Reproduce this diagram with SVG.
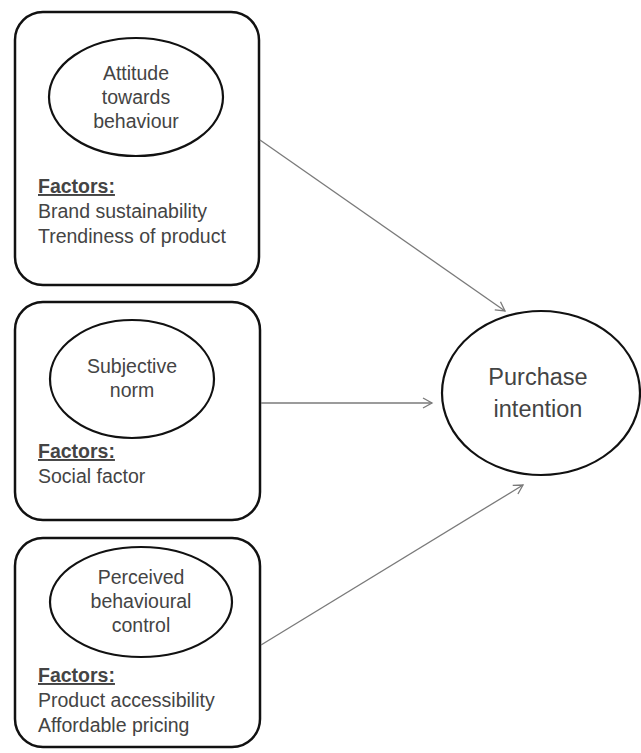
<svg xmlns="http://www.w3.org/2000/svg" width="641" height="753" viewBox="0 0 641 753">
<defs>
<marker id="arr" markerUnits="userSpaceOnUse" markerWidth="14" markerHeight="14" refX="12" refY="7" orient="auto">
<path d="M3,2 L12,7 L3,12" fill="none" stroke="#7a7a7a" stroke-width="1.3"/>
</marker>
</defs>
<style>
.box{fill:#fff;stroke:#111;stroke-width:2.5}
.ell{fill:#fff;stroke:#111;stroke-width:2.2}
.t{font-family:"Liberation Sans",Arial,sans-serif;font-size:19.5px;fill:#444}
.c{text-anchor:middle}
.f{font-weight:bold;text-decoration:underline}
.big{font-size:23.5px}
.con{stroke:#7a7a7a;stroke-width:1.3;fill:none;marker-end:url(#arr)}
</style>
<rect width="641" height="753" fill="#fff"/>
<g id="attitude">
<rect class="box" x="15" y="12" width="244" height="273" rx="28"/>
<ellipse class="ell" cx="136" cy="97" rx="87" ry="59"/>
<text class="t c" x="136" y="80">Attitude</text>
<text class="t c" x="136" y="104">towards</text>
<text class="t c" x="136" y="128">behaviour</text>
<text class="t f" x="38" y="193">Factors:</text>
<text class="t" x="38" y="218">Brand sustainability</text>
<text class="t" x="38" y="243">Trendiness of product</text>
</g>
<g id="subjective">
<rect class="box" x="15" y="302" width="245" height="218" rx="28"/>
<ellipse class="ell" cx="132" cy="379" rx="82" ry="59"/>
<text class="t c" x="132" y="373">Subjective</text>
<text class="t c" x="132" y="397">norm</text>
<text class="t f" x="38" y="458">Factors:</text>
<text class="t" x="38" y="483">Social factor</text>
</g>
<g id="perceived">
<rect class="box" x="15" y="538" width="245" height="209" rx="28"/>
<ellipse class="ell" cx="141" cy="602" rx="91" ry="55"/>
<text class="t c" x="141" y="584">Perceived</text>
<text class="t c" x="141" y="608">behavioural</text>
<text class="t c" x="141" y="632">control</text>
<text class="t f" x="38" y="682">Factors:</text>
<text class="t" x="38" y="707">Product accessibility</text>
<text class="t" x="38" y="732">Affordable pricing</text>
</g>
<g id="purchase">
<ellipse class="ell" cx="541" cy="393" rx="99" ry="82"/>
<text class="t c big" x="538" y="385">Purchase</text>
<text class="t c big" x="538" y="417">intention</text>
</g>
<g id="connectors">
<line class="con" x1="260" y1="140" x2="505" y2="311"/>
<line class="con" x1="261" y1="403" x2="432" y2="403"/>
<line class="con" x1="261" y1="645" x2="523" y2="485"/>
</g>
</svg>
